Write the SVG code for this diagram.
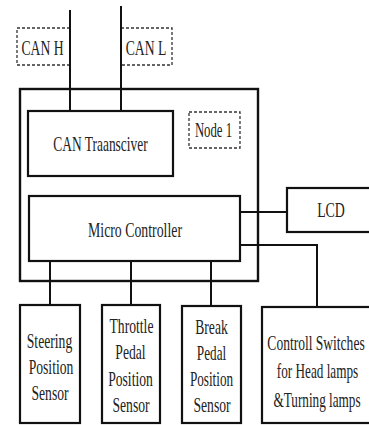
<svg xmlns="http://www.w3.org/2000/svg" width="369" height="425" viewBox="0 0 369 425">
<style>
.box{fill:none;stroke:#111;stroke-width:2.2}
.outer{fill:none;stroke:#111;stroke-width:2.4}
.dash{fill:none;stroke:#333;stroke-width:1.3;stroke-dasharray:3 2}
.wire{fill:none;stroke:#111;stroke-width:2}
.t{font-family:'Liberation Serif','Times New Roman',serif;font-size:22px;fill:#222;text-anchor:middle}
</style>
<rect width="369" height="425" fill="#fff"/>
<g id="can-h"><rect class="dash" x="17" y="28" width="53" height="37"/><text class="t" transform="translate(42.5 55) scale(0.62 1)">CAN H</text></g>
<g id="can-l"><rect class="dash" x="121" y="28" width="51" height="37"/><text class="t" transform="translate(146 55) scale(0.62 1)">CAN L</text></g>
<g id="node1-frame"><rect class="outer" x="20" y="89" width="238" height="192"/></g>
<g id="node1-label"><rect class="dash" x="189" y="112" width="51" height="36"/><text class="t" transform="translate(213.5 137) scale(0.58 1)">Node 1</text></g>
<g id="can-transceiver"><rect class="box" x="28" y="111" width="145" height="65"/><text class="t" transform="translate(100.5 151) scale(0.61 1)">CAN Traansciver</text></g>
<g id="micro-controller"><rect class="box" x="29" y="196" width="211" height="65"/><text class="t" transform="translate(135 237) scale(0.628 1)">Micro Controller</text></g>
<g id="lcd"><rect class="box" x="287" y="188" width="90" height="44"/><text class="t" transform="translate(331 217) scale(0.63 1)">LCD</text></g>
<g id="steering"><rect class="box" x="20" y="305" width="60" height="118"/>
<text class="t" transform="translate(49.5 348) scale(0.62 1)">Steering</text>
<text class="t" transform="translate(51 374) scale(0.62 1)">Position</text>
<text class="t" transform="translate(50 400) scale(0.62 1)">Sensor</text></g>
<g id="throttle"><rect class="box" x="102" y="305" width="58" height="118"/>
<text class="t" transform="translate(131.5 333) scale(0.62 1)">Throttle</text>
<text class="t" transform="translate(130.5 359) scale(0.62 1)">Pedal</text>
<text class="t" transform="translate(130.5 386) scale(0.62 1)">Position</text>
<text class="t" transform="translate(131 412) scale(0.62 1)">Sensor</text></g>
<g id="break"><rect class="box" x="182" y="306" width="59" height="117"/>
<text class="t" transform="translate(211.5 334) scale(0.62 1)">Break</text>
<text class="t" transform="translate(211.5 360) scale(0.6 1)">Pedal</text>
<text class="t" transform="translate(211.5 386) scale(0.6 1)">Position</text>
<text class="t" transform="translate(212 412) scale(0.62 1)">Sensor</text></g>
<g id="switches"><rect class="box" x="262" y="307" width="115" height="116"/>
<text class="t" transform="translate(316 350) scale(0.615 1)">Controll Switches</text>
<text class="t" transform="translate(317.5 378) scale(0.6 1)">for Head lamps</text>
<text class="t" transform="translate(317 407) scale(0.6 1)">&amp;Turning lamps</text></g>
<g id="connectors">
<path class="wire" d="M70 10V111"/>
<path class="wire" d="M121 6V111"/>
<path class="wire" d="M240 212H287"/>
<path class="wire" d="M240 245H317V307"/>
<path class="wire" d="M50 261V305"/>
<path class="wire" d="M131 261V305"/>
<path class="wire" d="M211 261V306"/>
</g>
</svg>
